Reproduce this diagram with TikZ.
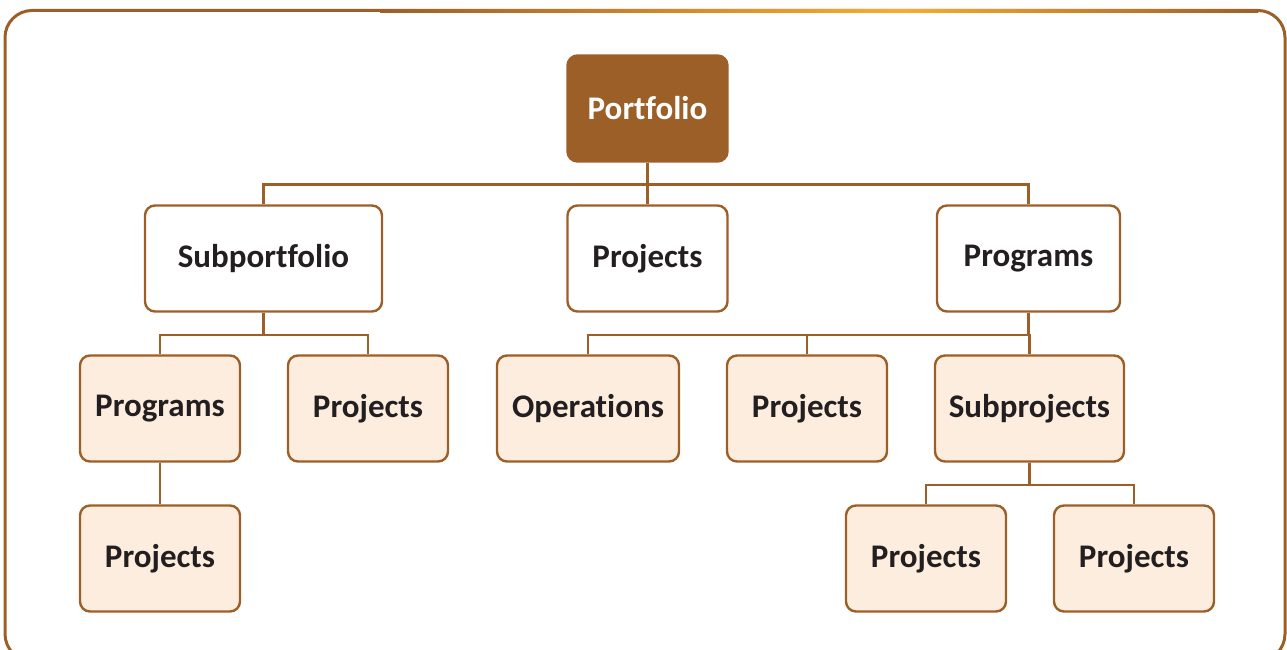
\documentclass[tikz,border=0pt]{standalone}
\usepackage{fontspec}
\setmainfont[Ligatures=NoCommon]{Carlito}
\usepackage{tikz}
\usetikzlibrary{arrows}
\definecolor{bark}{HTML}{9C5F28}
\definecolor{amber}{HTML}{F9AC2C}
\definecolor{cream}{HTML}{FDEDDF}
\definecolor{ink}{HTML}{231F20}

\begin{document}
\begin{tikzpicture}[x=1pt,y=1pt,-,node distance=150pt,
  line width=2.4pt,draw=bark,
  box/.style={rectangle,rounded corners=10pt,draw=bark,line width=2.4pt,
    minimum height=106pt,minimum width=160pt,inner sep=0pt,
    font=\fontsize{33}{38}\selectfont\bfseries,text=ink},
  top node/.style={box,fill=bark,text=white},
  mid node/.style={box,fill=white},
  leaf node/.style={box,fill=cream}]

  \useasboundingbox (0,0) rectangle (1287,649);
  % outer frame
  \draw[bark,line width=3pt,rounded corners=27pt] (5,638.5) rectangle (1285,-12);
  \shade[left color=bark,right color=amber] (380,636.3) rectangle (900,639.6);
  \shade[left color=amber,right color=bark] (900,636.3) rectangle (1258,639.6);

  \node[top node] (1) at (647.5,540.5) {Portfolio};
  \node[mid node,minimum width=237pt] (2) [below of=1,xshift=-384pt] {Subportfolio};
  \node[mid node] (3) [below of=1] {Projects};
  \node[mid node,minimum width=183pt] (4) [below of=1,xshift=381pt] {Programs};

  \node[leaf node] (5) [below of=2,xshift=-103.5pt] {Programs};
  \node[leaf node] (6) [below of=2,xshift=104.5pt] {Projects};
  \node[leaf node,minimum width=182pt] (7) [below of=4,xshift=-440.5pt] {Operations};
  \node[leaf node] (8) [below of=4,xshift=-221.5pt] {Projects};
  \node[leaf node,minimum width=189pt] (9) [below of=4,xshift=1pt] {Subprojects};

  \node[leaf node] (10) [below of=5] {Projects};
  \node[leaf node] (11) [below of=9,xshift=-103.5pt] {Projects};
  \node[leaf node] (12) [below of=9,xshift=104.5pt] {Projects};

  \path[draw=bark]
  (1.south) edge[to path={-- ++(0,-22) -| (\tikztotarget)}] (2.north)
  (1.south) edge (3.north)
  (1.south) edge[to path={-- ++(0,-22) -| (\tikztotarget)}] (4.north)
  (2.south) edge[to path={-- ++(0,-22) -| (\tikztotarget)}] (5.north)
  (2.south) edge[to path={-- ++(0,-22) -| (\tikztotarget)}] (6.north)
  (4.south) edge[to path={-- ++(0,-22) -| (\tikztotarget)}] (7.north)
  (4.south) edge[to path={-- ++(0,-22) -| (\tikztotarget)}] (8.north)
  (4.south) edge[to path={-- ++(0,-22) -| (\tikztotarget)}] (9.north)
  (5.south) edge (10.north)
  (9.south) edge[to path={-- ++(0,-22) -| (\tikztotarget)}] (11.north)
  (9.south) edge[to path={-- ++(0,-22) -| (\tikztotarget)}] (12.north);
\end{tikzpicture}
\end{document}
